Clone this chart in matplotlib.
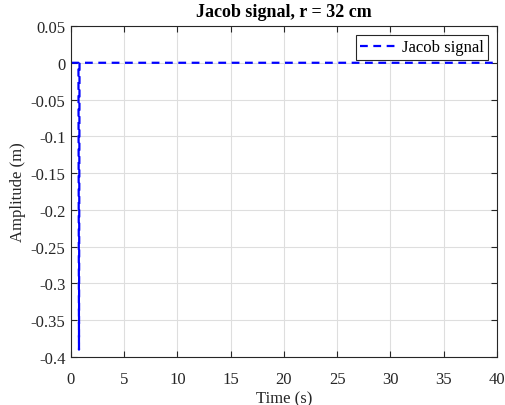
import matplotlib
matplotlib.use("Agg")
import matplotlib.pyplot as plt
import numpy as np

# Jacob signal samples (time in s, amplitude in m)
timeS = [0.0, 0.70, 0.75, 0.80, 40.0]
amplitudeM = [0.0, 0.0, -0.39, 0.0, 0.0]
xTicks = [0, 5, 10, 15, 20, 25, 30, 35, 40]
yTicks = [0.05, 0, -0.05, -0.1, -0.15, -0.2, -0.25, -0.3, -0.35, -0.4]

plt.rcParams["font.family"] = ["Liberation Serif", "DejaVu Serif"]
plt.rcParams["font.size"] = 12

def main():
	fig = plt.figure(figsize=(5.06, 4.06), dpi=100)
	ax = fig.add_axes([71 / 506, 48 / 406, 426 / 506, 331 / 406])
	ax.plot(timeS, amplitudeM, color="#0000ff", linestyle=(0, (3.5, 2.5)), linewidth=1.6, label="Jacob signal")
	ax.set_xlim(0, 40)
	ax.set_ylim(-0.4, 0.05)
	ax.set_xticks(xTicks)
	ax.set_yticks(yTicks)
	ax.set_xticklabels([str(t) for t in xTicks])
	ax.set_yticklabels(["%g" % t for t in yTicks])
	ax.grid(True, color="#dedede", linewidth=0.8)
	ax.set_axisbelow(True)
	ax.tick_params(direction="in", top=True, right=True, length=4, width=0.8, labelsize=12, colors="#262626")
	ax.tick_params(axis="x", pad=10)
	ax.tick_params(axis="y", pad=4)
	for spine in ax.spines.values():
		spine.set_color("#262626")
		spine.set_linewidth(0.8)
	ax.set_xlabel("Time (s)", fontsize=12, color="#262626", labelpad=2.5)
	ax.set_ylabel("Amplitude (m)", fontsize=12, color="#262626", labelpad=3)
	ax.set_title("Jacob signal, r = 32 cm", fontsize=13, fontweight="bold", pad=7)
	leg = ax.legend(loc="upper right", fancybox=False, framealpha=1, edgecolor="#262626", fontsize=12,
		handlelength=2.3, handletextpad=0.2, borderpad=0.25, borderaxespad=0.55)
	leg.get_frame().set_linewidth(0.8)
	fig.savefig("out.png", dpi=100)

if __name__ == '__main__':
	main()
